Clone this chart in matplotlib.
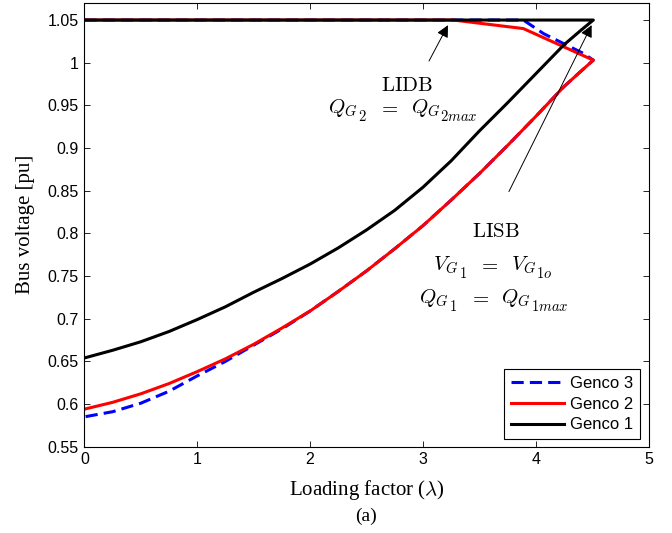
import numpy as np
import matplotlib
matplotlib.use("Agg")
import matplotlib.pyplot as plt
from matplotlib.ticker import FuncFormatter, MultipleLocator

plt.rcParams['mathtext.fontset'] = 'cm'
plt.rcParams['font.family'] = ['Liberation Sans', 'DejaVu Sans']

# ---------------- data ----------------
# upper branches (generator voltage held at 1.05 until limit is hit)
lam_up_g3 = [0.0, 3.89, 4.07, 4.42, 4.51]
v_up_g3 = [1.05, 1.05, 1.034, 1.011, 1.003]
lam_up_g2 = [0.0, 3.27, 3.89, 4.51]
v_up_g2 = [1.05, 1.05, 1.040, 1.003]
lam_up_g1 = [0.0, 4.51]
v_up_g1 = [1.05, 1.05]

# lower branches
lam_low = [0.0, 0.25, 0.5, 0.75, 1.0, 1.25, 1.5, 1.75, 2.0, 2.25, 2.5, 2.75,
           3.0, 3.25, 3.5, 3.75, 4.0, 4.25, 4.4, 4.51]
v_low_g3 = [0.585, 0.591, 0.601, 0.615, 0.633, 0.650, 0.669, 0.688, 0.709, 0.732, 0.756, 0.782,
            0.809, 0.839, 0.870, 0.903, 0.937, 0.972, 0.990, 1.003]
v_low_g2 = [0.594, 0.602, 0.612, 0.624, 0.638, 0.653, 0.670, 0.689, 0.709, 0.732, 0.756, 0.782,
            0.809, 0.839, 0.870, 0.903, 0.937, 0.972, 0.990, 1.003]
v_low_g1 = [0.654, 0.663, 0.673, 0.685, 0.699, 0.714, 0.731, 0.747, 0.764, 0.783, 0.804, 0.827,
            0.854, 0.885, 0.920, 0.953, 0.987, 1.021, 1.038, 1.05]

labels = ['Genco 3', 'Genco 2', 'Genco 1']

###################### figure ######################
fig = plt.figure(figsize=(6.72, 5.33), dpi=100)
ax = fig.add_axes([0.1256, 0.1619, 0.8396, 0.8330])

def branch(lu, vu, ll, vl):
    # go out along the upper branch and come back on the lower one
    x = list(lu) + list(ll[::-1])
    y = list(vu) + list(vl[::-1])
    return x, y

x3, y3 = branch(lam_up_g3, v_up_g3, lam_low, v_low_g3)
x2, y2 = branch(lam_up_g2, v_up_g2, lam_low, v_low_g2)
x1, y1 = branch(lam_up_g1, v_up_g1, lam_low, v_low_g1)

ax.plot(x3, y3, color='b', lw=2.2, dashes=(4, 2), label=labels[0])
ax.plot(x2, y2, color='r', lw=2.2, label=labels[1])
ax.plot(x1, y1, color='k', lw=2.2, label=labels[2])

ax.set_xlim(0, 5)
ax.set_ylim(0.55, 1.0703)
ax.xaxis.set_major_locator(MultipleLocator(1))
ax.set_yticks(np.arange(0.55, 1.0501, 0.05))
ax.yaxis.set_major_formatter(FuncFormatter(lambda v, p: '%g' % round(v, 2)))
ax.tick_params(direction='in', length=4, width=0.6, top=True, right=True,
               labelsize=11.5, pad=4)
for s in ax.spines.values():
    s.set_linewidth(0.8)

ax.set_xlabel(r'Loading factor ($\lambda$)', family='Liberation Serif', fontsize=15, labelpad=8)
ax.set_ylabel('Bus voltage [pu]', family='Liberation Serif', fontsize=15, labelpad=9)
fig.text(0.545, 0.032, '(a)', family='Liberation Serif', fontsize=14, ha='center', va='center')

# annotations
ax.annotate('', xy=(3.222, 1.044), xytext=(3.054, 1.002),
            arrowprops=dict(arrowstyle='-|>', lw=0.7, color='k', mutation_scale=18,
                            shrinkA=0, shrinkB=0))
ax.annotate('', xy=(4.495, 1.044), xytext=(3.762, 0.849),
            arrowprops=dict(arrowstyle='-|>', lw=0.7, color='k', mutation_scale=18,
                            shrinkA=0, shrinkB=0))
ax.text(2.856, 0.967, r'$\mathrm{LIDB}$', fontsize=15, ha='center', va='baseline')
ax.text(3.645, 0.796, r'$\mathrm{LISB}$', fontsize=15, ha='center', va='baseline')

# the equations: MATLAB's latex keeps the second-level subscripts fairly big,
# so put those on as their own pieces (text, size, drop in points, gap after in points)
renderer = fig.canvas.get_renderer()

def eq_line(x, y, pieces):
    widths = []
    for tex, size, drop, gap in pieces:
        t = ax.text(0, 0, tex, fontsize=size)
        widths.append(t.get_window_extent(renderer).width * 72.0 / fig.dpi + gap)
        t.remove()
    pos = -sum(widths) / 2.0
    for (tex, size, drop, gap), w in zip(pieces, widths):
        ax.annotate(tex, xy=(x, y), xytext=(pos, -drop), textcoords='offset points',
                    fontsize=size, ha='left', va='baseline')
        pos += w

def eq_pieces(a, b, c):
    return [('$%s_G$' % a, 15, 0, 0), ('$%s$' % b, 10.5, 5.5, 8.5),
            ('$=$', 15, 0, 8.5),
            ('$%s_G$' % a, 15, 0, 0), ('$%s$' % c, 10.5, 5.5, 0)]

eq_line(2.823, 0.941, eq_pieces('Q', '2', '2max'))
eq_line(3.619, 0.757, eq_pieces('V', '1', '1o'))
eq_line(3.630, 0.718, eq_pieces('Q', '1', '1max'))

leg = ax.legend(loc='lower right', bbox_to_anchor=(0.9848, 0.0173), borderaxespad=0,
                fontsize=12, handlelength=3.2, labelspacing=0.35, fancybox=False,
                framealpha=1, edgecolor='k', borderpad=0.4, handletextpad=0.35)
leg.get_frame().set_linewidth(0.8)

fig.savefig('out.png', dpi=100)
